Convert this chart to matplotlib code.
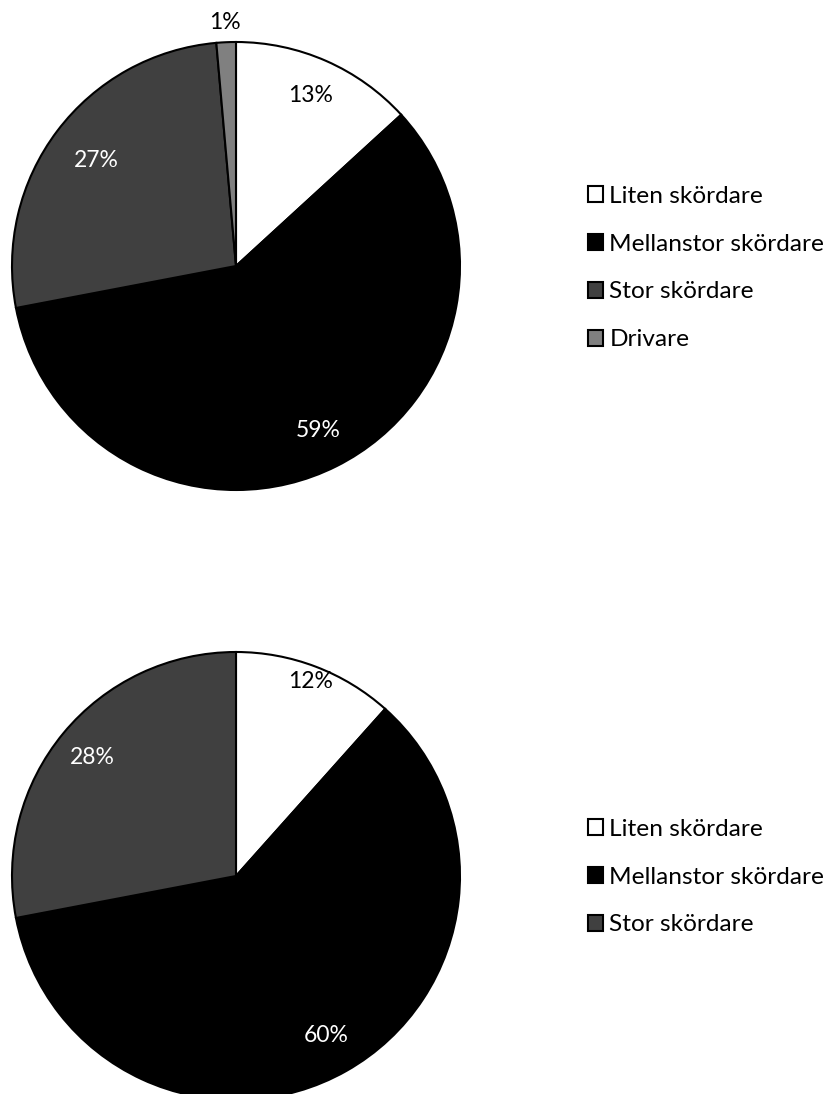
import matplotlib
matplotlib.use("Agg")
import numpy as np
import matplotlib.pyplot as plt
from matplotlib.patches import Patch

plt.rcParams['font.family'] = ['Lato', 'DejaVu Sans']

# top chart
labels_top = ['Liten skördare', 'Mellanstor skördare', 'Stor skördare', 'Drivare']
values_top = [13.2, 58.8, 26.6, 1.4]
pct_top = ['13%', '59%', '27%', '1%']

# bottom chart
labels_bot = ['Liten skördare', 'Mellanstor skördare', 'Stor skördare']
values_bot = [11.6, 60.4, 28.0]
pct_bot = ['12%', '60%', '28%']

colors = ['#ffffff', '#000000', '#404040', '#808080']
text_colors = ['black', 'white', 'white', 'black']

W, H = 830, 1094
fig = plt.figure(figsize=(W / 100, H / 100), dpi=100)


def draw_pie(cx, cy, r, values, pcts, dists, names, leg_y):
    pad = 1.02
    ax = fig.add_axes([(cx - r * pad) / W, (H - cy - r * pad) / H,
                       2 * r * pad / W, 2 * r * pad / H])
    wedges, _ = ax.pie(values, colors=colors[:len(values)], startangle=90,
                       counterclock=False, radius=1,
                       wedgeprops=dict(edgecolor='black', linewidth=1.5))
    ax.set_xlim(-pad, pad)
    ax.set_ylim(-pad, pad)
    ax.set_aspect('equal')
    ax.axis('off')
    # percent labels, placed like Excel's "best fit"
    for w, txt, d, c in zip(wedges, pcts, dists, text_colors):
        ang = np.deg2rad((w.theta1 + w.theta2) / 2)
        ax.text(d * np.cos(ang), d * np.sin(ang), txt, ha='center', va='center',
                fontsize=16.5, color=c)
    handles = [Patch(facecolor=colors[i], edgecolor='black', linewidth=1.5)
               for i in range(len(names))]
    fig.legend(handles, names, loc='center left',
               bbox_to_anchor=(588 / W, (H - leg_y) / H), frameon=False,
               fontsize=17.6, handlelength=0.62, handleheight=0.62,
               handletextpad=0.25, labelspacing=1.1, borderpad=0,
               borderaxespad=0)


draw_pie(236, 266, 224, values_top, pct_top, [0.83, 0.82, 0.78, 1.09],
         labels_top, 268)
draw_pie(236, 876, 224, values_bot, pct_bot, [0.93, 0.82, 0.83],
         labels_bot, 877)

fig.savefig('out.png', dpi=100)
